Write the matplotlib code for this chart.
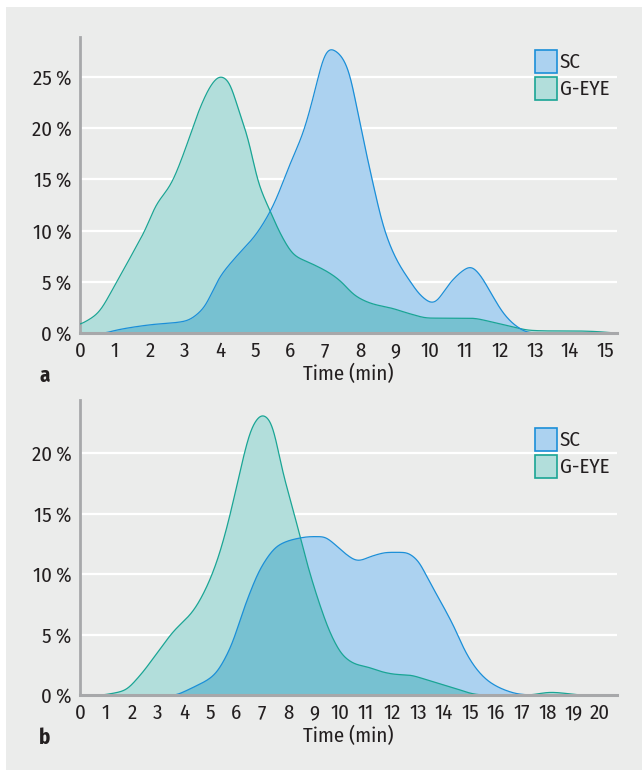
import numpy as np
import matplotlib
matplotlib.use("Agg")
import matplotlib.pyplot as plt
from matplotlib.patches import Rectangle

# ---------------- data ----------------
series_names = ["SC", "G-EYE"]

a_sc_x = [0.74, 1.0, 2.0, 3.0, 3.5, 4.0, 4.5, 5.0, 5.5, 6.0, 6.4, 6.7, 7.0, 7.12, 7.4, 7.65, 8.0,
          8.35, 8.7, 9.05, 9.4, 9.75, 10.08, 10.57, 10.9, 11.16, 11.4, 11.74, 12.1, 12.45, 12.8, 13.0]
a_sc_y = [0.0, 0.25, 0.8, 1.15, 2.3, 5.5, 7.6, 9.5, 12.3, 16.5, 19.8, 23.5, 27.3, 27.8, 27.3, 25.9, 20.4,
          14.9, 10.0, 7.1, 5.2, 3.6, 2.9, 4.9, 6.0, 6.5, 5.8, 3.9, 1.9, 0.7, 0.06, 0.0]

a_ge_x = [0.0, 0.5, 0.97, 1.44, 1.91, 2.14, 2.61, 2.96, 3.43, 3.78, 4.0, 4.25, 4.48, 4.84, 5.07, 5.42,
          5.77, 6.12, 6.6, 7.06, 7.4, 7.88, 8.35, 8.93, 9.4, 9.99, 10.57, 11.16, 11.74, 12.3, 12.9,
          13.5, 14.1, 14.7, 15.25]
a_ge_y = [0.8, 1.9, 4.5, 7.4, 10.4, 12.3, 14.6, 17.5, 22.0, 24.4, 25.1, 24.6, 22.3, 18.5, 14.9, 12.0,
          9.4, 7.6, 6.8, 6.0, 5.2, 3.6, 2.85, 2.4, 1.9, 1.45, 1.45, 1.45, 1.1, 0.65, 0.25,
          0.2, 0.2, 0.15, 0.0]

b_sc_x = [3.72, 4.35, 5.13, 5.76, 6.38, 7.0, 7.64, 8.26, 8.9, 9.36, 9.67, 10.14, 10.69, 11.24, 11.86,
          12.49, 12.96, 13.43, 13.9, 14.37, 14.84, 15.3, 15.77, 16.4, 16.87, 17.3]
b_sc_y = [0.0, 0.63, 1.6, 3.8, 7.6, 10.7, 12.4, 12.9, 13.1, 13.1, 12.7, 11.8, 11.1, 11.5, 11.8,
          11.8, 11.2, 9.4, 7.6, 5.7, 3.5, 2.0, 1.04, 0.36, 0.08, 0.0]

b_ge_x = [0.9, 1.69, 2.3, 2.94, 3.57, 4.35, 4.82, 5.29, 5.76, 6.23, 6.62, 7.01, 7.32, 7.8, 8.26, 8.73,
          9.2, 9.67, 10.14, 10.6, 11.08, 11.7, 12.17, 12.65, 13.27, 13.9, 14.5, 15.15, 15.5, 17.2,
          18.1, 19.2]
b_ge_y = [0.0, 0.36, 1.6, 3.4, 5.2, 6.95, 8.7, 11.2, 14.8, 19.2, 22.2, 23.2, 22.7, 18.4, 14.8, 10.9,
          7.6, 4.9, 3.2, 2.55, 2.3, 1.87, 1.7, 1.65, 1.3, 0.9, 0.5, 0.08, 0.0, 0.0,
          0.22, 0.0]

a_xticks = list(range(0, 16))
a_yticks = [0, 5, 10, 15, 20, 25]
b_xticks = list(range(0, 21))
b_yticks = [0, 5, 10, 15, 20]
xlabel = "Time (min)"
panel_labels = ["a", "b"]

# ---------------- style ----------------
W, H = 642, 774
BG = "#ebeceb"
SC_FILL, SC_LINE = "#acd2f0", "#1b8fd8"
GE_FILL, GE_LINE = "#b2dedb", "#1aa595"
OV_FILL = "#77c1d1"
SPINE = "#a7a8aa"
TXT = "#231f20"
FONT = ["Fira Sans Condensed", "DejaVu Sans"]
plt.rcParams["font.family"] = FONT
FS = 15


def pchip(x, y, xn):
    x = np.asarray(x, float); y = np.asarray(y, float)
    h = np.diff(x); d = np.diff(y) / h
    n = len(x)
    m = np.zeros(n)
    for k in range(1, n - 1):
        if d[k - 1] * d[k] > 0:
            w1 = 2 * h[k] + h[k - 1]
            w2 = h[k] + 2 * h[k - 1]
            m[k] = (w1 + w2) / (w1 / d[k - 1] + w2 / d[k])
    m[0] = d[0]
    m[-1] = d[-1]
    out = np.zeros_like(xn)
    inside = (xn >= x[0]) & (xn <= x[-1])
    xi = xn[inside]
    idx = np.clip(np.searchsorted(x, xi) - 1, 0, n - 2)
    t = (xi - x[idx]) / h[idx]
    h00 = 2 * t**3 - 3 * t**2 + 1
    h10 = t**3 - 2 * t**2 + t
    h01 = -2 * t**3 + 3 * t**2
    h11 = t**3 - t**2
    out[inside] = (h00 * y[idx] + h10 * h[idx] * m[idx] + h01 * y[idx + 1] + h11 * h[idx] * m[idx + 1])
    return np.clip(out, 0, None)


def smooth_curve(x, y, grid, sigma):
    v = pchip(x, y, grid)
    dx = grid[1] - grid[0]
    r = int(4 * sigma / dx)
    k = np.exp(-0.5 * (np.arange(-r, r + 1) * dx / sigma) ** 2)
    k /= k.sum()
    pad = np.concatenate([np.full(r, v[0]), v, np.full(r, v[-1])])
    s = np.convolve(pad, k, mode="valid")
    s[(grid < x[0]) | (grid > x[-1])] = 0
    return s


fig = plt.figure(figsize=(W / 100, H / 100), dpi=100, facecolor="white")
fig.add_artist(Rectangle((6 / W, 4 / H), 1 - 6 / W, 1 - 11 / H, transform=fig.transFigure,
                         facecolor=BG, edgecolor="none", zorder=-10))


def px_box(x0, y0, x1, y1):
    return [x0 / W, 1 - y1 / H, (x1 - x0) / W, (y1 - y0) / H]


def panel(box, xmax, ymax, sc_x, sc_y, ge_x, ge_y, xticks, yticks, label, label_y, leg_y, sigma):
    ax = fig.add_axes(box)
    ax.set_facecolor("none")
    grid = np.linspace(0, xmax, 4000)
    sc = smooth_curve(sc_x, sc_y, grid, sigma)
    ge = smooth_curve(ge_x, ge_y, grid, sigma)
    for yv in yticks[1:]:
        ax.axhline(yv, color="white", lw=1.6, zorder=0)
    ax.fill_between(grid, 0, ge, where=ge > 0, color=GE_FILL, lw=0, zorder=1)
    ax.fill_between(grid, 0, sc, where=sc > 0, color=SC_FILL, lw=0, zorder=1)
    ov = np.minimum(sc, ge)
    ax.fill_between(grid, 0, ov, where=ov > 0, color=OV_FILL, lw=0, zorder=2)
    gm = (grid >= ge_x[0]) & (grid <= ge_x[-1])
    sm = (grid >= sc_x[0]) & (grid <= sc_x[-1])
    ax.plot(grid[gm], ge[gm], color=GE_LINE, lw=0.9, zorder=3)
    ax.plot(grid[sm], sc[sm], color=SC_LINE, lw=0.9, zorder=3)
    ax.set_xlim(0, xmax)
    ax.set_ylim(0, ymax)
    for s in ["top", "right"]:
        ax.spines[s].set_visible(False)
    ax.spines["left"].set_color(SPINE)
    ax.spines["left"].set_linewidth(2.0)
    ax.spines["bottom"].set_color(SPINE)
    ax.spines["bottom"].set_linewidth(2.2)
    ax.spines["bottom"].set_zorder(5)
    ax.set_xticks(xticks)
    ax.set_xticklabels([str(v) for v in xticks])
    ax.set_yticks(yticks)
    ax.set_yticklabels([f"{v}\u2009%" for v in yticks])
    ax.tick_params(length=0, labelsize=FS, colors=TXT, pad=6)
    ax.tick_params(axis="x", pad=6)
    ax.set_xlabel(xlabel, fontsize=FS, color=TXT, labelpad=2)
    fig.text(39 / W, 1 - label_y / H, label, fontsize=FS, fontweight="bold", color=TXT,
             va="center", ha="left")
    for i, (name, fc, ec) in enumerate([(series_names[0], SC_FILL, SC_LINE),
                                        (series_names[1], GE_FILL, GE_LINE)]):
        y0 = leg_y + i * 27
        fig.add_artist(Rectangle((535 / W, 1 - (y0 + 23) / H), 22 / W, 23 / H,
                                 transform=fig.transFigure, facecolor=fc, edgecolor=ec, lw=1.2))
        fig.text(560 / W, 1 - (y0 + 12) / H, name, fontsize=FS, color=TXT, va="center", ha="left")
    return ax


panel(px_box(80, 37, 617, 333), 15.34, 28.9, a_sc_x, a_sc_y, a_ge_x, a_ge_y,
      a_xticks, a_yticks, panel_labels[0], 376, 50, 0.1)
panel(px_box(80, 400, 617, 695), 20.65, 24.4, b_sc_x, b_sc_y, b_ge_x, b_ge_y,
      b_xticks, b_yticks, panel_labels[1], 738, 428, 0.13)

fig.savefig("out.png", dpi=100, facecolor="white")
